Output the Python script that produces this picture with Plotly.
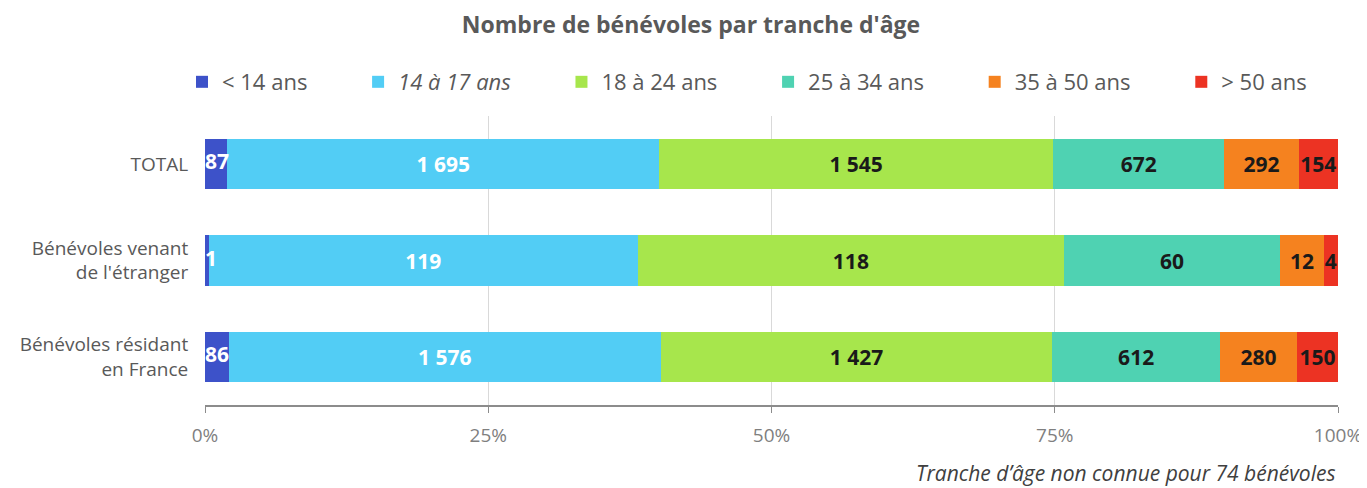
import plotly.graph_objects as go

categories = ["TOTAL", "Bénévoles venant<br>de l'étranger", "Bénévoles résidant<br>en France"]
series_names = ["< 14 ans", "<i>14 à 17 ans</i>", "18 à 24 ans", "25 à 34 ans", "35 à 50 ans", "> 50 ans"]
v_lt14 = [87, 1, 86]
v_14_17 = [1695, 119, 1576]
v_18_24 = [1545, 118, 1427]
v_25_34 = [672, 60, 612]
v_35_50 = [292, 12, 280]
v_gt50 = [154, 4, 150]
series_values = [v_lt14, v_14_17, v_18_24, v_25_34, v_35_50, v_gt50]
colors = ["#3d52c9", "#52cdf5", "#a7e64c", "#4fd2b2", "#f5821f", "#ec3323"]
text_colors = ["white", "white", "#1a1a1a", "#1a1a1a", "#1a1a1a", "#1a1a1a"]
x_tickvals = [0, 25, 50, 75, 100]
x_ticktext = ["0%", "25%", "50%", "75%", "100%"]


def fmt(v):
    return f"{v:,}".replace(",", " ")


FONT = "'Open Sans', sans-serif"
PAD = "\u00a0" * 8
LABEL_SIZE = 21

fig = go.Figure()
for i, (name, vals, col, tcol) in enumerate(zip(series_names, series_values, colors, text_colors)):
    legend_name = name + (PAD if i < len(series_names) - 1 else "")
    first = (i == 0)
    fig.add_trace(go.Bar(
        y=categories, x=vals, name=legend_name, orientation="h",
        marker=dict(color=col, line=dict(width=0)),
        text=None if first else [fmt(v) for v in vals],
        textposition="inside", textangle=0,
        insidetextanchor="middle", constraintext="none",
        textfont=dict(family=FONT, size=LABEL_SIZE, color=tcol, weight="bold"),
        width=0.52,
    ))

# labels of the first (narrow) segment, drawn on top from the start of each bar
bar_starts = [0 for _ in v_lt14]
fig.add_trace(go.Scatter(
    x=bar_starts, y=categories, mode="text", text=[fmt(v) for v in v_lt14],
    textposition="middle right", cliponaxis=False, showlegend=False, hoverinfo="skip",
    textfont=dict(family=FONT, size=LABEL_SIZE, color="white", weight="bold"),
))

fig.update_layout(
    barmode="stack", barnorm="percent",
    width=1359, height=480,
    margin=dict(l=197, r=29, t=108, b=83, autoexpand=False),
    paper_bgcolor="white", plot_bgcolor="white",
    font=dict(family=FONT, color="#595959"),
    uniformtext=dict(minsize=LABEL_SIZE, mode="show"),
    title=dict(text="<b>Nombre de bénévoles par tranche d'âge</b>",
               x=0.5026, xanchor="center", y=0.9646, yanchor="middle",
               font=dict(family=FONT, size=23, color="#595959")),
    legend=dict(orientation="h", x=-0.0203, xanchor="left", y=1.1176,
                yanchor="middle", traceorder="normal",
                font=dict(family=FONT, size=22, color="#595959"),
                itemwidth=30),
    showlegend=True,
)

fig.update_xaxes(range=[0, 100], tickvals=x_tickvals, ticktext=x_ticktext,
                 showgrid=True, gridcolor="#d9d9d9", gridwidth=1,
                 zeroline=False, showline=True, linecolor="#8c8c8c", linewidth=2,
                 ticks="outside", ticklen=6, tickcolor="#8c8c8c", tickwidth=1,
                 ticklabelstandoff=6,
                 tickfont=dict(family=FONT, size=19, color="#7f7f7f"))
fig.update_yaxes(autorange="reversed", showgrid=False, zeroline=False,
                 ticks="outside", ticklen=12, tickcolor="rgba(0,0,0,0)",
                 tickfont=dict(family=FONT, size=19, color="#595959"))

fig.add_annotation(text="<i>Tranche d’âge non connue pour 74 bénévoles</i>",
                   xref="paper", yref="paper", x=1.0, xanchor="right",
                   y=-0.235, yanchor="middle", showarrow=False,
                   font=dict(family=FONT, size=21, color="#404040"))

fig.write_html("out.html")
